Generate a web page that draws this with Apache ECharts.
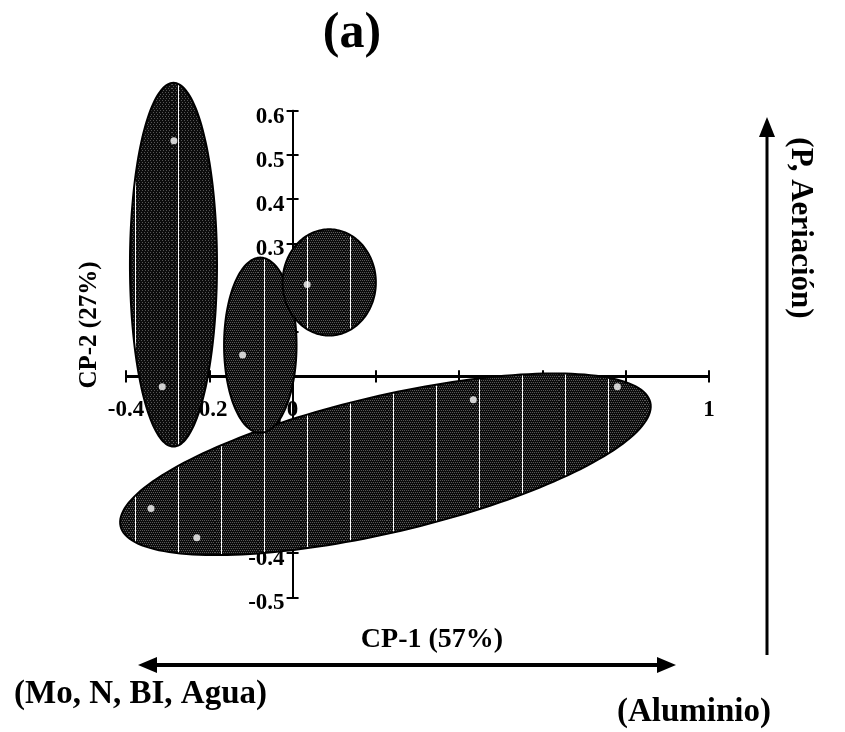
<!DOCTYPE html>
<html>
<head>
<meta charset="UTF-8">
<title>CP-1 vs CP-2 (a)</title>
<script src="https://cdn.jsdelivr.net/npm/echarts@6/dist/echarts.min.js"></script>
<style>
  html, body { margin: 0; padding: 0; background: #fff; }
  #chart { width: 845px; height: 732px; }
</style>
</head>
<body>
<div id="chart"></div>
<script>
// puntos (CP-1, CP-2)
const cp1 = [-0.285, -0.313, -0.12, 0.035, -0.340, -0.230, 0.434, 0.780];
const cp2 = [0.532, -0.024, 0.048, 0.207, -0.299, -0.365, -0.053, -0.024];

// elipses de grupo: centro y dos semiejes (vectores, en unidades de los ejes)
const ellCx = [0.223, -0.286, -0.0775, 0.088];
const ellCy = [-0.199, 0.252, 0.07, 0.212];
const ellU  = [[0.636, 0.140], [0.1045, 0], [0.087, 0], [0.112, 0]];
const ellV  = [[0.0375, -0.150], [0, 0.411], [0, 0.198], [0, 0.120]];

const xTicks = { min: -0.4, max: 1, interval: 0.2 };
const yTicks = { min: -0.5, max: 0.6, interval: 0.1 };

const serif = '"Liberation Serif", "Times New Roman", serif';

// trama oscura con rayas blancas verticales
function makeTexture(step, dot) {
  const c = document.createElement('canvas');
  c.width = 43; c.height = 4;
  const g = c.getContext('2d');
  g.fillStyle = '#0c0c0c';
  g.fillRect(0, 0, 43, 4);
  g.fillStyle = dot;
  for (let y = 0; y < 4; y += 2) {
    for (let x = (y / 2) % 2; x < 43; x += step) g.fillRect(x, y, 1, 1);
  }
  g.fillStyle = '#fff';
  g.fillRect(6, 0, 1, 4);
  return c;
}
const texLight = makeTexture(2, '#5a5a5a');
const texDark = makeTexture(3, '#555');

const chart = echarts.init(document.getElementById('chart'));

const fmt = v => String(Math.round(v * 10) / 10);

const lineStyle = { color: '#000', width: 2 };
const labelFont = { color: '#000', fontFamily: serif, fontWeight: 'bold', fontSize: 23, showMinLabel: true, showMaxLabel: true };

// área de datos
const G = { left: 126, right: 136, top: 110.7, bottom: 134.5 };
const zeroY = 376.5, zeroX = 292.6; // posición del origen (ejes cruzados)

const ellipseData = ellCx.map((cx, i) => [cx, ellCy[i], ellU[i][0], ellU[i][1], ellV[i][0], ellV[i][1]]);

chart.setOption({
  animation: false,
  grid: [
    Object.assign({ containLabel: false, outerBoundsMode: 'none' }, G),
    // rejilla auxiliar: su borde inferior es la línea y = 0 (etiquetas del eje X)
    { left: G.left, right: G.right, top: G.top, bottom: 732 - zeroY, containLabel: false, outerBoundsMode: 'none' },
    // rejilla auxiliar: su borde izquierdo es la línea x = 0 (etiquetas del eje Y)
    { left: zeroX, right: G.right, top: G.top, bottom: G.bottom, containLabel: false, outerBoundsMode: 'none' }
  ],
  xAxis: [
    {
      gridIndex: 0, type: 'value', min: xTicks.min, max: xTicks.max, interval: xTicks.interval,
      axisLine: { onZero: true, lineStyle: lineStyle },
      axisTick: { show: true, inside: true, length: 6, lineStyle: lineStyle },
      axisLabel: { show: false },
      splitLine: { show: false }
    },
    {
      gridIndex: 1, type: 'value', position: 'bottom', min: xTicks.min, max: xTicks.max, interval: xTicks.interval,
      axisLine: { onZero: false, lineStyle: lineStyle },
      axisTick: { show: true, inside: false, length: 6, lineStyle: lineStyle },
      axisLabel: Object.assign({ formatter: fmt, margin: 22 }, labelFont),
      splitLine: { show: false }
    },
    { gridIndex: 2, type: 'value', min: 0, max: 1, show: false }
  ],
  yAxis: [
    {
      gridIndex: 0, type: 'value', min: yTicks.min, max: yTicks.max, interval: yTicks.interval,
      axisLine: { onZero: true, lineStyle: lineStyle },
      axisTick: { show: true, inside: true, length: 6, lineStyle: lineStyle },
      axisLabel: { show: false },
      splitLine: { show: false }
    },
    { gridIndex: 1, type: 'value', min: 0, max: 0.6, show: false },
    {
      gridIndex: 2, type: 'value', position: 'left', min: yTicks.min, max: yTicks.max, interval: yTicks.interval,
      axisLine: { onZero: false, lineStyle: lineStyle },
      axisTick: { show: true, inside: false, length: 6, lineStyle: lineStyle },
      axisLabel: Object.assign({ formatter: fmt, margin: 8, verticalAlign: 'top', lineHeight: 12 }, labelFont),
      splitLine: { show: false }
    }
  ],
  series: [
    {
      type: 'custom',
      coordinateSystem: 'cartesian2d',
      xAxisIndex: 0,
      yAxisIndex: 0,
      clip: false,
      silent: true,
      z: 3,
      data: ellipseData,
      renderItem: function (params, api) {
        const cx = api.value(0), cy = api.value(1);
        const ux = api.value(2), uy = api.value(3);
        const vx = api.value(4), vy = api.value(5);
        const pts = [];
        for (let k = 0; k < 180; k++) {
          const t = k / 180 * Math.PI * 2;
          pts.push(api.coord([cx + ux * Math.cos(t) + vx * Math.sin(t),
                              cy + uy * Math.cos(t) + vy * Math.sin(t)]));
        }
        return {
          type: 'polygon',
          shape: { points: pts },
          style: {
            fill: { image: params.dataIndex === 1 ? texDark : texLight, repeat: 'repeat' },
            stroke: '#000',
            lineWidth: 2
          }
        };
      }
    },
    {
      type: 'scatter',
      xAxisIndex: 0,
      yAxisIndex: 0,
      silent: true,
      z: 5,
      symbol: 'circle',
      symbolSize: 7,
      itemStyle: { color: '#fff' },
      data: cp1.map((x, i) => [x, cp2[i]])
    }
  ],
  graphic: [
    { type: 'text', x: 352, y: 34, style: { text: '(a)', font: 'bold 50px ' + serif, fill: '#000', align: 'center', verticalAlign: 'middle' } },
    { type: 'text', x: 90, y: 325, rotation: Math.PI / 2, style: { text: 'CP-2 (27%)', font: 'bold 25px ' + serif, fill: '#000', align: 'center', verticalAlign: 'middle' } },
    { type: 'text', x: 432, y: 640, style: { text: 'CP-1 (57%)', font: 'bold 28px ' + serif, fill: '#000', align: 'center', verticalAlign: 'middle' } },
    { type: 'line', shape: { x1: 150, y1: 665, x2: 664, y2: 665 }, style: { stroke: '#000', lineWidth: 4 } },
    { type: 'polygon', shape: { points: [[138, 665], [157, 657], [157, 673]] }, style: { fill: '#000' } },
    { type: 'polygon', shape: { points: [[676, 665], [657, 657], [657, 673]] }, style: { fill: '#000' } },
    { type: 'line', shape: { x1: 767, y1: 132, x2: 767, y2: 655 }, style: { stroke: '#000', lineWidth: 3 } },
    { type: 'polygon', shape: { points: [[767, 117], [759, 137], [775, 137]] }, style: { fill: '#000' } },
    { type: 'text', x: 14, y: 694, style: { text: '(Mo, N, BI, Agua)', font: 'bold 33px ' + serif, fill: '#000', align: 'left', verticalAlign: 'middle' } },
    { type: 'text', x: 694, y: 712, style: { text: '(Aluminio)', font: 'bold 33px ' + serif, fill: '#000', align: 'center', verticalAlign: 'middle' } },
    { type: 'text', x: 800, y: 228, rotation: -Math.PI / 2, style: { text: '(P, Aeriación)', font: 'bold 31px ' + serif, fill: '#000', align: 'center', verticalAlign: 'middle' } }
  ]
});
</script>
</body>
</html>
